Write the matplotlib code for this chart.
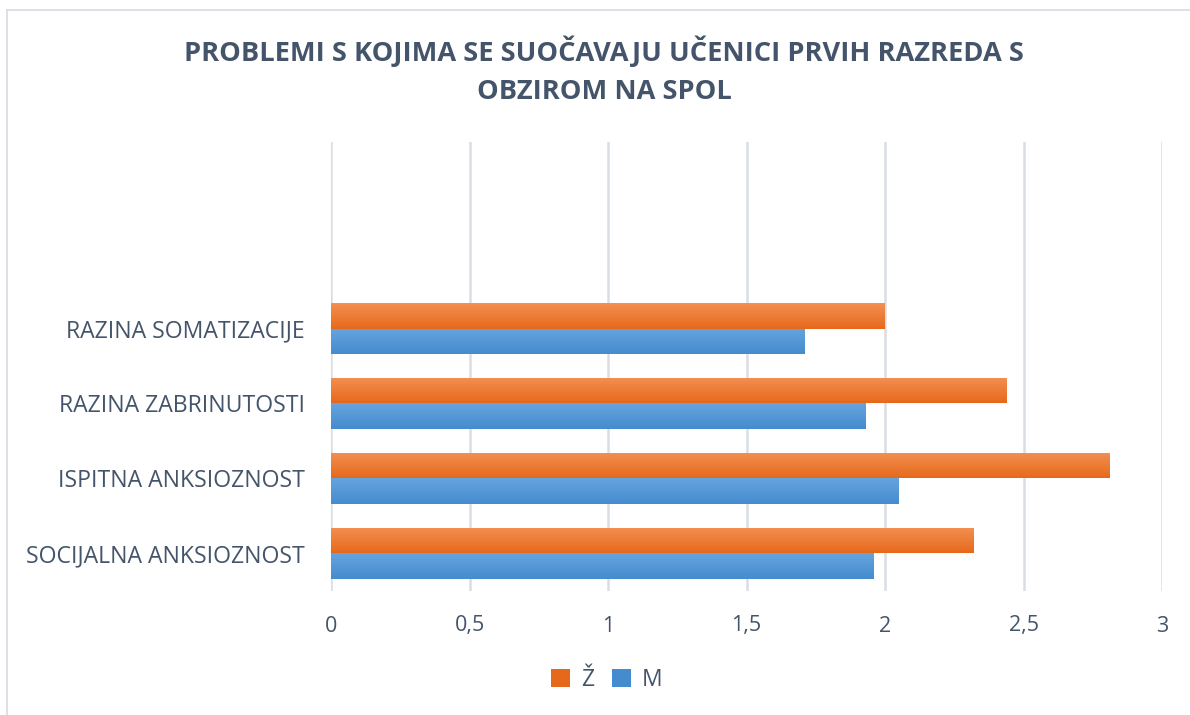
import matplotlib
matplotlib.use("Agg")
import matplotlib.pyplot as plt
import numpy as np
from matplotlib.patches import Patch
from matplotlib.lines import Line2D

categories = ["SOCIJALNA ANKSIOZNOST", "ISPITNA ANKSIOZNOST", "RAZINA ZABRINUTOSTI", "RAZINA SOMATIZACIJE"]
zensko = [2.32, 2.81, 2.44, 2.00]
musko = [1.96, 2.05, 1.93, 1.71]
series_names = ["Ž", "M"]
xticks = [0, 0.5, 1, 1.5, 2, 2.5, 3]
xtick_labels = ["0", "0,5", "1", "1,5", "2", "2,5", "3"]
title = "PROBLEMI S KOJIMA SE SUOČAVAJU UČENICI PRVIH RAZREDA S\nOBZIROM NA SPOL"

text_color = "#44546A"
grid_color = "#D9DEE5"
orange_top, orange_bot = "#F39052", "#E6691B"
blue_top, blue_bot = "#66A4DE", "#458CCF"

plt.rcParams['font.family'] = ['Open Sans', 'DejaVu Sans']

W, H = 1190, 715
fig = plt.figure(figsize=(W / 100, H / 100), dpi=100)
left, right, top, bottom = 331, 1162, 141.5, 590.5
ax = fig.add_axes([left / W, 1 - bottom / H, (right - left) / W, (bottom - top) / H])

# outer chart border (left/top)
fig.add_artist(Line2D([7 / W, 7 / W], [0, 1 - 10 / H], color=grid_color, lw=1.3))
fig.add_artist(Line2D([7 / W, 1], [1 - 10 / H, 1 - 10 / H], color=grid_color, lw=1.3))

y = np.arange(len(categories))
h = 0.34
bars_z = ax.barh(y + h / 2, zensko, height=h, color=orange_bot, zorder=3)
bars_m = ax.barh(y - h / 2, musko, height=h, color=blue_bot, zorder=3)

def gradient(bars, ctop, cbot):
    c1 = np.array(matplotlib.colors.to_rgb(ctop))
    c2 = np.array(matplotlib.colors.to_rgb(cbot))
    t = np.linspace(0, 1, 64)[:, None]
    img = (c1 * (1 - t) + c2 * t)[:, None, :]
    for b in bars:
        x0, y0 = b.get_x(), b.get_y()
        w, hh = b.get_width(), b.get_height()
        im = ax.imshow(img, extent=[x0, x0 + w, y0, y0 + hh], origin='upper',
                       aspect='auto', zorder=4, interpolation='bilinear')
        im.set_clip_path(b)

gradient(bars_z, orange_top, orange_bot)
gradient(bars_m, blue_top, blue_bot)

ax.set_xlim(0, 3)
ax.set_ylim(-0.5, 5.5)
ax.set_xticks(xticks)
ax.set_xticklabels(xtick_labels)
ax.set_yticks(y)
ax.set_yticklabels(categories)
ax.tick_params(axis='x', length=0, pad=18, labelsize=15.5, colors=text_color)
ax.tick_params(axis='y', length=0, pad=19, labelsize=16.6, colors=text_color)
ax.grid(axis='x', color=grid_color, lw=1.8, zorder=0)
ax.set_axisbelow(True)
for s in ax.spines.values():
    s.set_visible(False)

fig.text(604 / W, 1 - 70 / H, title, ha='center', va='center', fontsize=19.6,
         fontweight='bold', color=text_color, linespacing=1.6)

handles = [Patch(facecolor=orange_bot, edgecolor='none'), Patch(facecolor=blue_bot, edgecolor='none')]
fig.legend(handles, series_names, loc='center', bbox_to_anchor=(607 / W, 1 - 680 / H), ncol=2,
           frameon=False, fontsize=16.5, labelcolor=text_color, handlelength=0.8, handleheight=0.8,
           handletextpad=0.5, columnspacing=0.8)

fig.savefig("out.png", dpi=100, facecolor='white')
